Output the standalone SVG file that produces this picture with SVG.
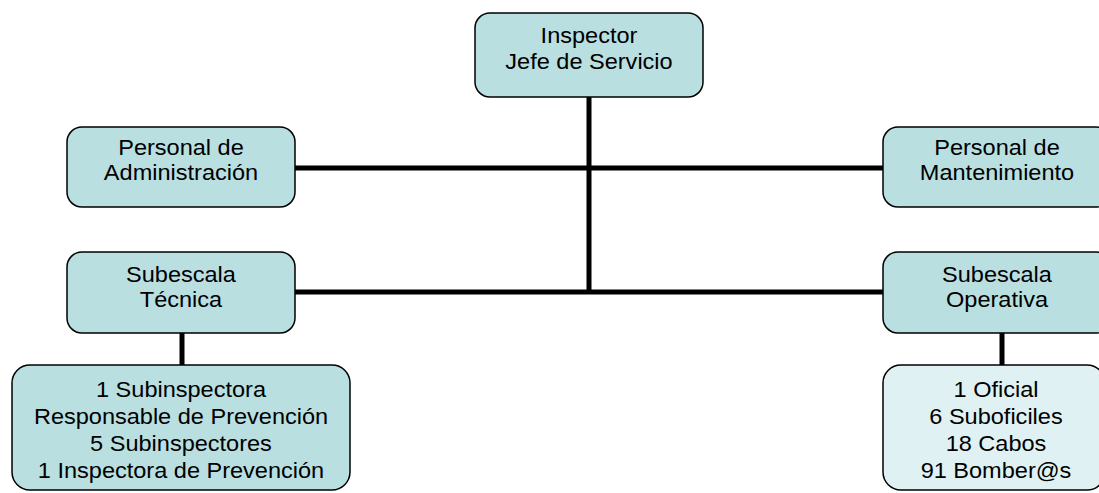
<svg xmlns="http://www.w3.org/2000/svg" width="1099" height="493" viewBox="0 0 1099 493">
<style>
.box{fill:#B9DFE1;stroke:#000;stroke-width:1.5}
.light{fill:#DFF1F2}
.conn{stroke:#000;stroke-width:5;fill:none}
text{font-family:"Liberation Sans",Arial,sans-serif;font-size:22px;fill:#000;text-anchor:middle}
</style>
<rect width="1099" height="493" fill="#fff"/>
<g id="connectors">
<line class="conn" x1="589" y1="97" x2="589" y2="294"/>
<line class="conn" x1="295" y1="168" x2="883" y2="168"/>
<line class="conn" x1="295" y1="292" x2="883" y2="292"/>
<line class="conn" x1="182" y1="333" x2="182" y2="365"/>
<line class="conn" x1="1002" y1="333" x2="1002" y2="365"/>
</g>
<g id="n-jefe">
<rect class="box" x="475" y="13" width="228" height="84" rx="15"/>
<g transform="translate(589 0) scale(1.07 1)">
<text x="0" y="43">Inspector</text>
<text x="0" y="69">Jefe de Servicio</text>
</g>
</g>
<g id="n-admin">
<rect class="box" x="67" y="127" width="228" height="80" rx="15"/>
<g transform="translate(181 0) scale(1.07 1)">
<text x="0" y="155">Personal de</text>
<text x="0" y="180">Administración</text>
</g>
</g>
<g id="n-mant">
<rect class="box" x="883" y="127" width="228" height="80" rx="15"/>
<g transform="translate(997 0) scale(1.07 1)">
<text x="0" y="155">Personal de</text>
<text x="0" y="180">Mantenimiento</text>
</g>
</g>
<g id="n-tecnica">
<rect class="box" x="67" y="252" width="228" height="81" rx="15"/>
<g transform="translate(181 0) scale(1.07 1)">
<text x="0" y="282">Subescala</text>
<text x="0" y="307">Técnica</text>
</g>
</g>
<g id="n-operativa">
<rect class="box" x="883" y="252" width="228" height="81" rx="15"/>
<g transform="translate(997 0) scale(1.07 1)">
<text x="0" y="282">Subescala</text>
<text x="0" y="307">Operativa</text>
</g>
</g>
<g id="n-tecnica-detalle">
<rect class="box" x="12" y="365" width="338" height="125" rx="18"/>
<g transform="translate(181 0) scale(1.07 1)">
<text x="0" y="397">1 Subinspectora</text>
<text x="0" y="424">Responsable de Prevención</text>
<text x="0" y="451">5 Subinspectores</text>
<text x="0" y="478">1 Inspectora de Prevención</text>
</g>
</g>
<g id="n-operativa-detalle">
<rect class="box light" x="883" y="365" width="222" height="125" rx="18"/>
<g transform="translate(996 0) scale(1.07 1)">
<text x="0" y="397">1 Oficial</text>
<text x="0" y="424">6 Suboficiles</text>
<text x="0" y="451">18 Cabos</text>
<text x="0" y="478">91 Bomber@s</text>
</g>
</g>
</svg>
